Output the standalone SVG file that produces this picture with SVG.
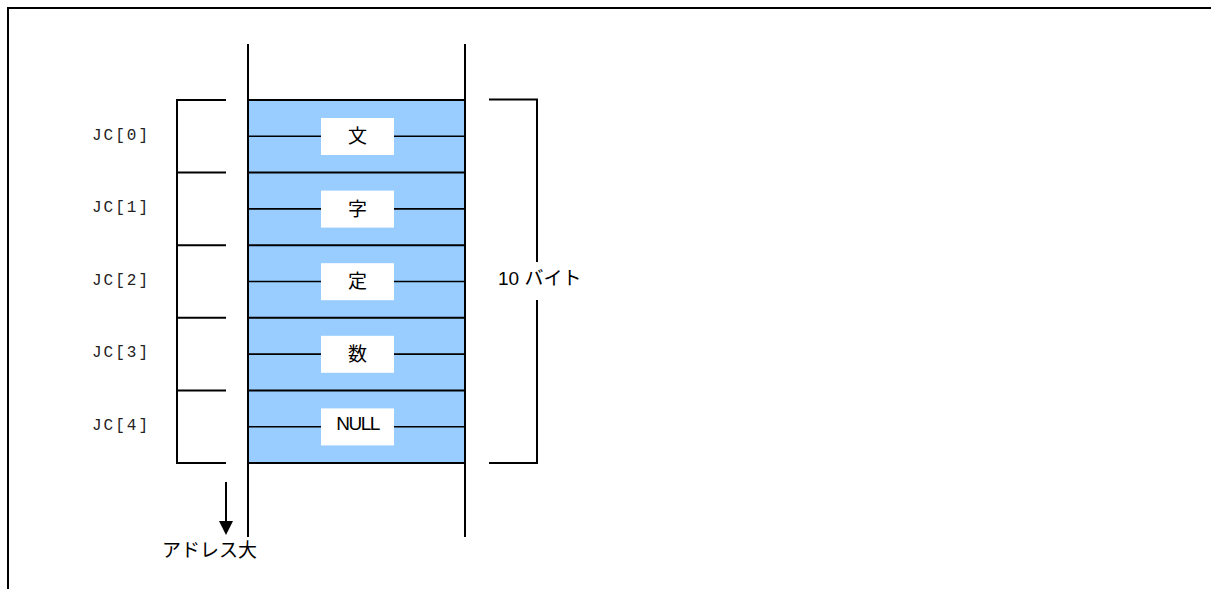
<svg xmlns="http://www.w3.org/2000/svg" width="1211" height="589" viewBox="0 0 1211 589">
<style>
.ln{stroke:#000;stroke-width:2;fill:none}
.thin{stroke:#000;stroke-width:1.6;fill:none}
.jc{font-family:"Liberation Mono",monospace;font-size:16px;fill:#222}
.t{font-family:"Liberation Sans","Noto Sans CJK JP",sans-serif;font-size:19px;fill:#000}
.box{fill:#fff}
</style>
<rect width="1211" height="589" fill="#fff"/>
<g id="frame">
<path class="ln" d="M8,589 V8 H1211" stroke-width="2.5"/>
</g>
<g id="memory">
<rect x="248" y="100" width="217" height="363" fill="#99CCFF"/>
<path class="thin" d="M248,136.3H465M248,208.9H465M248,281.5H465M248,354.1H465M248,426.7H465"/>
<path class="ln" d="M248,100H465M248,172.6H465M248,245.2H465M248,317.8H465M248,390.4H465M248,463H465"/>
<path class="ln" d="M248,44V537M465,44V537"/>
</g>
<g id="cell0"><rect class="box" x="321" y="118" width="73" height="37"/><text class="t" x="357.5" y="143" text-anchor="middle">文</text></g>
<g id="cell1"><rect class="box" x="321" y="190.6" width="73" height="37"/><text class="t" x="357.5" y="215.6" text-anchor="middle">字</text></g>
<g id="cell2"><rect class="box" x="321" y="263.2" width="73" height="37"/><text class="t" x="357.5" y="288.2" text-anchor="middle">定</text></g>
<g id="cell3"><rect class="box" x="321" y="335.8" width="73" height="37"/><text class="t" x="357.5" y="360.8" text-anchor="middle">数</text></g>
<g id="cell4"><rect class="box" x="321" y="408.4" width="73" height="37"/><text class="t" x="357.5" y="429.5" text-anchor="middle" letter-spacing="-1.5">NULL</text></g>
<g id="left-bracket">
<path class="ln" d="M226,100H177V463H226M177,172.6H226M177,245.2H226M177,317.8H226M177,390.4H226"/>
</g>
<g id="labels">
<text class="jc" x="92" y="139.5" textLength="56">JC[0]</text>
<text class="jc" x="92" y="212.1" textLength="56">JC[1]</text>
<text class="jc" x="92" y="284.7" textLength="56">JC[2]</text>
<text class="jc" x="92" y="357.3" textLength="56">JC[3]</text>
<text class="jc" x="92" y="429.9" textLength="56">JC[4]</text>
</g>
<g id="right-bracket">
<path class="ln" d="M489,99.5H537V262M537,300V463H489"/>
<text class="t" x="498" y="285">10 バイト</text>
</g>
<g id="connectors">
<line x1="226" y1="482" x2="226" y2="521" class="ln"/>
<path d="M219,521 L233,521 L226,535 Z" fill="#000"/>
</g>
<g id="address-label">
<text class="t" x="162" y="557">アドレス大</text>
</g>
</svg>
